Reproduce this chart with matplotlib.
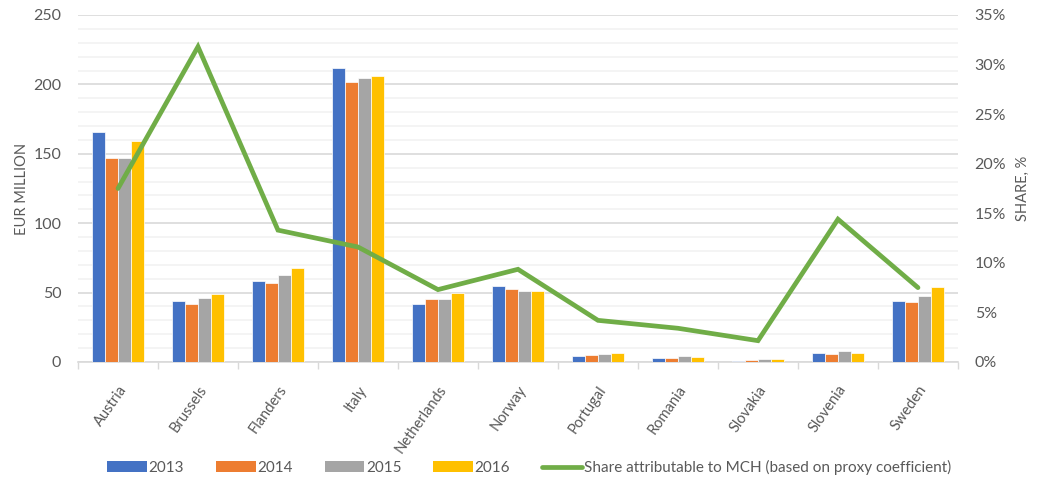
import numpy as np
import matplotlib.pyplot as plt
from matplotlib.ticker import MultipleLocator, FuncFormatter
from matplotlib.lines import Line2D
from matplotlib.patches import Patch

regions = ['Austria', 'Brussels', 'Flanders', 'Italy', 'Netherlands', 'Norway',
           'Portugal', 'Romania', 'Slovakia', 'Slovenia', 'Sweden']
years = ['2013', '2014', '2015', '2016']

# EUR million per year
spend_2013 = [165.5, 44, 58.5, 211.5, 41.5, 54.5, 4.6, 2.9, 1.0, 6.8, 43.6]
spend_2014 = [147, 41.5, 57, 202, 45.6, 52.5, 5.1, 3.2, 1.2, 6.1, 43.1]
spend_2015 = [147, 46, 62.5, 204.5, 45.6, 51, 5.8, 4.4, 2.0, 8.0, 47.2]
spend_2016 = [159, 49, 67.5, 206, 49.5, 51, 6.5, 3.7, 2.5, 6.8, 54.3]

# share attributable to MCH, %
mch_share = [17.5, 31.8, 13.3, 11.6, 7.3, 9.35, 4.2, 3.4, 2.15, 14.4, 7.5]

colors = ['#4472C4', '#ED7D31', '#A5A5A5', '#FFC000']
line_color = '#70AD47'
text_color = '#595959'

plt.rcParams['font.family'] = ['Lato', 'DejaVu Sans']

fig = plt.figure(figsize=(10.37, 4.87), dpi=100)
ax = fig.add_axes([0.0752, 0.2567, 0.8486, 0.7125])
ax2 = ax.twinx()

x = np.arange(len(regions))
slot = 0.16
series = [spend_2013, spend_2014, spend_2015, spend_2016]
for i, vals in enumerate(series):
    ax.bar(x + (i - 1.5) * slot, vals, width=slot, color=colors[i],
           edgecolor='white', linewidth=0.5, zorder=3)

ax.set_xlim(-0.5, len(regions) - 0.5)
ax.set_ylim(0, 250)
ax.yaxis.set_major_locator(MultipleLocator(50))
ax.yaxis.set_minor_locator(MultipleLocator(10))
ax.grid(which='major', axis='y', color='#D9D9D9', linewidth=1.2, zorder=0)
ax.grid(which='minor', axis='y', color='#F2F2F2', linewidth=1.2, zorder=0)
ax.set_axisbelow(True)

ax.set_xticks(x)
ax.set_xticklabels(regions, rotation=55, ha='right', rotation_mode='anchor',
                   fontsize=10.5, color=text_color)
ax.set_xticks(np.arange(-0.5, len(regions)), minor=True)
ax.tick_params(axis='x', which='major', length=0, pad=15)
ax.tick_params(axis='x', which='minor', length=5, color='#D9D9D9', width=1)
ax.tick_params(axis='y', which='both', length=0, labelsize=11.5,
               labelcolor=text_color, pad=12)
ax.set_ylabel('EUR MILLION', fontsize=10.5, color=text_color, labelpad=3)

for side in ['top', 'left', 'right']:
    ax.spines[side].set_visible(False)
    ax2.spines[side].set_visible(False)
ax.spines['bottom'].set_color('#D9D9D9')
ax.spines['bottom'].set_linewidth(1.2)
ax2.spines['bottom'].set_visible(False)

ax2.plot(x, mch_share, color=line_color, linewidth=3.4, solid_capstyle='round',
         solid_joinstyle='miter', zorder=4)
ax2.set_ylim(0, 35)
ax2.yaxis.set_major_locator(MultipleLocator(5))
ax2.yaxis.set_major_formatter(FuncFormatter(lambda v, _: f'{v:.0f}%'))
ax2.tick_params(axis='y', length=0, labelsize=11.5, labelcolor=text_color, pad=12)
ax2.set_ylabel('SHARE, %', fontsize=10.5, color=text_color, labelpad=7)

handles = [Patch(facecolor=c, edgecolor='none') for c in colors]
handles.append(Line2D([0], [0], color=line_color, linewidth=3.4,
                      solid_capstyle='round'))
labels = years + ['Share attributable to MCH (based on proxy coefficient)']
fig.legend(handles, labels, loc='center', bbox_to_anchor=(0.51, 0.04),
           ncol=5, frameon=False, fontsize=11, labelcolor=text_color,
           handlelength=2.6, handleheight=0.75, handletextpad=0.1,
           columnspacing=2.1)

fig.savefig('out.png', dpi=100)
